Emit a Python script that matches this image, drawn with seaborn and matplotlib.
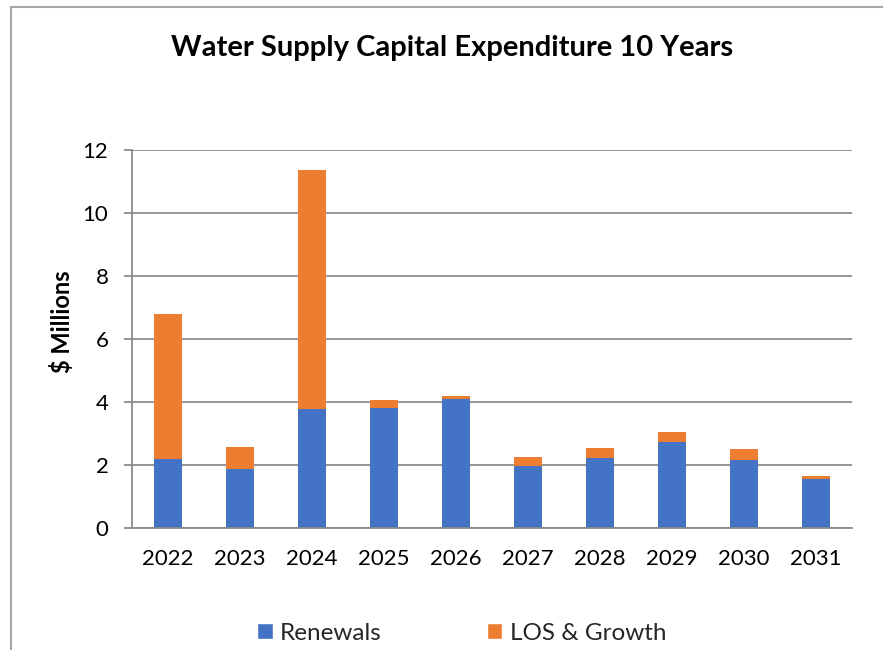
import matplotlib
matplotlib.use("Agg")
import matplotlib.pyplot as plt
from matplotlib.patches import Rectangle, Patch
import numpy as np
import pandas as pd
import seaborn as sns

years = ["2022", "2023", "2024", "2025", "2026", "2027", "2028", "2029", "2030", "2031"]
renewals = [2.18, 1.86, 3.77, 3.80, 4.10, 1.97, 2.21, 2.72, 2.16, 1.55]
los_growth = [4.60, 0.71, 7.60, 0.27, 0.10, 0.29, 0.33, 0.32, 0.34, 0.11]
y_ticks = [0, 2, 4, 6, 8, 10, 12]

BLUE = "#4472C4"
ORANGE = "#ED7D31"
GRID = "#8C8C8C"

sns.set_theme(style="white")
plt.rcParams["font.family"] = ["Lato", "DejaVu Sans"]

df = pd.DataFrame({
    "year": years,
    "Renewals": renewals,
    "LOS & Growth": los_growth,
})
df["total"] = df["Renewals"] + df["LOS & Growth"]

fig = plt.figure(figsize=(8.83, 6.5), dpi=100)
ax = fig.add_axes([0.1495, 0.1877, 0.8154, 0.5815])

# Stacked bars: full height in orange, renewals drawn over the lower part
sns.barplot(data=df, x="year", y="total", color=ORANGE, width=0.4,
            saturation=1, ax=ax, linewidth=0)
sns.barplot(data=df, x="year", y="Renewals", color=BLUE, width=0.4,
            saturation=1, ax=ax, linewidth=0)

ax.set_ylim(0, 12)
ax.set_xlim(-0.5, len(years) - 0.5)
ax.set_yticks(y_ticks)
ax.set_yticklabels([str(t) for t in y_ticks])
ax.yaxis.grid(True, color=GRID, linewidth=1.3)
ax.set_axisbelow(True)
ax.set_xlabel("")
ax.set_ylabel("")

for side in ["top", "right"]:
    ax.spines[side].set_visible(False)
for side in ["left", "bottom"]:
    ax.spines[side].set_color(GRID)
    ax.spines[side].set_linewidth(1.3)

# Category boundary ticks on the x axis
ax.set_xticks(np.arange(-0.5, len(years), 1.0), minor=True)
ax.tick_params(axis="x", which="minor", length=6, width=1.3, color=GRID, direction="out")
ax.tick_params(axis="x", which="major", length=0, pad=15, labelsize=16, labelcolor="#000000")
ax.tick_params(axis="y", which="major", length=6, width=1.3, color=GRID, direction="out",
               pad=11, labelsize=16, labelcolor="#000000")
ax.tick_params(left=True, bottom=True)

fig.text(0.512, 0.926, "Water Supply Capital Expenditure 10 Years",
         ha="center", va="center", fontsize=21, fontweight="bold", color="#000000")
fig.text(0.070, 0.505, "$ Millions", rotation=90, ha="center", va="center",
         fontsize=17, fontweight="bold", color="#000000")

handles = [Patch(facecolor=BLUE, label="Renewals"),
           Patch(facecolor=ORANGE, label="LOS & Growth")]
fig.legend(handles=handles, loc="center", bbox_to_anchor=(0.523, 0.026), ncol=2,
           frameon=False, fontsize=17.5, handlelength=0.62, handleheight=0.62,
           handletextpad=0.3, columnspacing=4.35)

# Chart frame
fig.patches.append(Rectangle((11 / 883, -0.1), 1.2, 1.1 - 7 / 650,
                             transform=fig.transFigure, fill=False,
                             edgecolor="#A6A6A6", linewidth=1.5))

fig.savefig("out.png", dpi=100, facecolor="white")
